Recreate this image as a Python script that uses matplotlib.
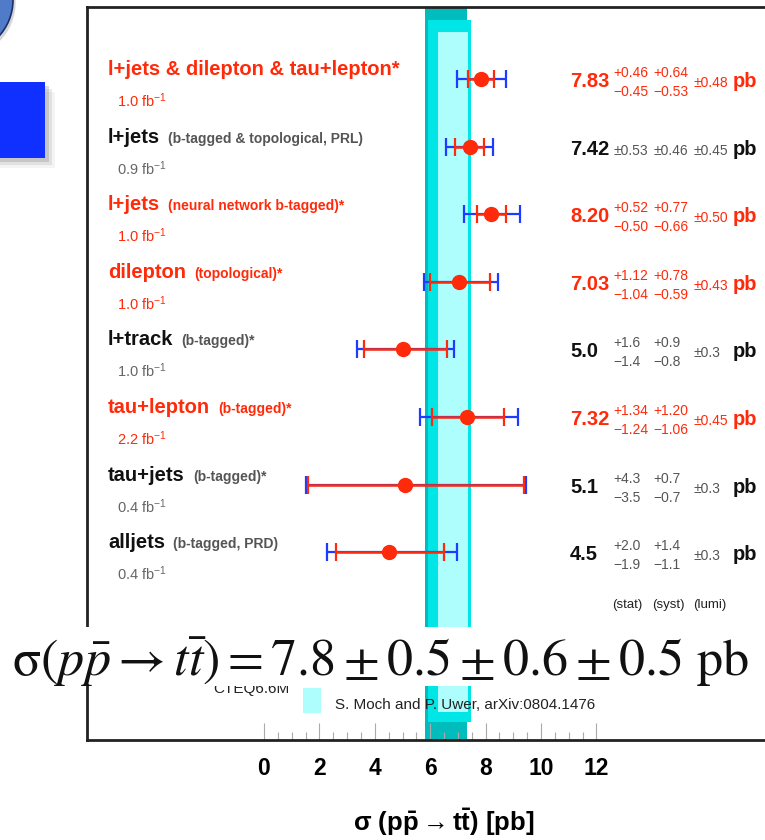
# -*- coding: utf-8 -*-
import numpy as np
import matplotlib
matplotlib.use('Agg')
import matplotlib.pyplot as plt
from matplotlib.patches import Rectangle, Ellipse
from matplotlib.transforms import blended_transform_factory, ScaledTranslation


# measurements (top to bottom)
names = ['l+jets & dilepton & tau+lepton*', 'l+jets', 'l+jets', 'dilepton',
         'l+track', 'tau+lepton', 'tau+jets', 'alljets']
details = ['', '(b-tagged & topological, PRL)', '(neural network b-tagged)*',
           '(topological)*', '(b-tagged)*', '(b-tagged)*', '(b-tagged)*',
           '(b-tagged, PRD)']
lumis = ['1.0', '0.9', '1.0', '1.0', '1.0', '2.2', '0.4', '0.4']
xsec = [7.83, 7.42, 8.20, 7.03, 5.0, 7.32, 5.1, 4.5]
decimals = [2, 2, 2, 2, 1, 2, 1, 1]
stat_up = [0.46, 0.53, 0.52, 1.12, 1.6, 1.34, 4.3, 2.0]
stat_dn = [0.45, 0.53, 0.50, 1.04, 1.4, 1.24, 3.5, 1.9]
syst_up = [0.64, 0.46, 0.77, 0.78, 0.9, 1.20, 0.7, 1.4]
syst_dn = [0.53, 0.46, 0.66, 0.59, 0.8, 1.06, 0.7, 1.1]
lumi_err = [0.48, 0.45, 0.50, 0.43, 0.3, 0.45, 0.3, 0.3]
highlight = [True, False, True, True, False, True, False, False]

# theory band (Moch & Uwer)
band_shadow = [5.81, 7.33]
band_outer = [5.92, 7.47]
band_inner = [6.28, 7.36]

xticks = [0, 2, 4, 6, 8, 10, 12]

W, H, DPI = 765, 840, 100
RED = '#ff2a0a'
BLUE = '#1d3cff'
SANS = ['Liberation Sans', 'DejaVu Sans']

plt.rcParams['mathtext.rm'] = 'Liberation Sans'
plt.rcParams['mathtext.bf'] = 'Liberation Sans:bold'
plt.rcParams['mathtext.it'] = 'Liberation Sans:italic'


def fx(px):
    return px / W


def fy(py):
    return 1 - py / H


fig = plt.figure(figsize=(W / DPI, H / DPI), dpi=DPI)

# slide decorations on the left
fig.add_artist(Ellipse((fx(-38), fy(3)), 2 * 53.6 / W, 2 * 53.6 / H, transform=fig.transFigure,
                       facecolor='#999999', alpha=0.4, edgecolor='none'))
fig.add_artist(Ellipse((fx(-40.6), fy(0)), 2 * 53.6 / W, 2 * 53.6 / H, transform=fig.transFigure,
                       facecolor='#4f7bc9', edgecolor='#1c2f66', lw=1.2))
for off, a in [(10, 0.08), (7, 0.15), (4, 0.25)]:
    fig.add_artist(Rectangle((fx(0), fy(158 + off)), (45 + off) / W, 76 / H,
                             transform=fig.transFigure, color='#777777', alpha=a, lw=0))
fig.add_artist(Rectangle((fx(0), fy(158)), 45 / W, 76 / H, transform=fig.transFigure,
                         color='#1030ff', lw=0))

# plot frame
X0, SCALE = 264, 27.7
ROW0, ROWSTEP = 79, 67.6
left, right, top, bottom = 87, 775, 7, 740
ax = fig.add_axes([fx(left), fy(bottom), (right - left) / W, (bottom - top) / H])
ax.set_xlim((left - X0) / SCALE, (right - X0) / SCALE)
ax.set_ylim((bottom - ROW0) / ROWSTEP, (top - ROW0) / ROWSTEP)
ax.set_facecolor('white')
for side in ['left', 'top', 'bottom']:
    ax.spines[side].set_linewidth(2)
    ax.spines[side].set_color('#222222')
ax.spines['right'].set_visible(False)

ax.axvspan(*band_shadow, color='#00bcbc', lw=0, zorder=1)
ax.axvspan(*band_outer, ymin=(bottom - 722) / (bottom - top), ymax=(bottom - 20) / (bottom - top),
           color='#00e6e6', lw=0, zorder=1.1)
ax.axvspan(*band_inner, ymin=(bottom - 712) / (bottom - top), ymax=(bottom - 32) / (bottom - top),
           color='#aefefe', lw=0, zorder=1.2)

rows = np.arange(len(xsec))
xsec_a = np.array(xsec)
tot_up = np.sqrt(np.array(stat_up) ** 2 + np.array(syst_up) ** 2 + np.array(lumi_err) ** 2)
tot_dn = np.sqrt(np.array(stat_dn) ** 2 + np.array(syst_dn) ** 2 + np.array(lumi_err) ** 2)

ax.errorbar(xsec_a, rows, xerr=[tot_dn, tot_up], fmt='none', ecolor=BLUE,
            elinewidth=1.6, capsize=6.5, capthick=1.6, zorder=3)
ax.errorbar(xsec_a, rows, xerr=[stat_dn, stat_up], fmt='o', color=RED, ms=10,
            elinewidth=1.8, capsize=6.5, capthick=1.6, zorder=4)

ax.set_xticks(xticks)
ax.set_xticks(np.arange(0, 12.5, 0.5), minor=True)
ax.set_yticks([])
ax.tick_params(axis='x', which='major', direction='in', length=12, width=0.8,
               color='#aaaaaa', pad=12, labelsize=16.5)
ax.tick_params(axis='x', which='minor', direction='in', length=6, width=0.8, color='#aaaaaa')
for lbl in ax.get_xticklabels():
    lbl.set_fontfamily(SANS)
    lbl.set_fontweight('bold')


def row_tf(dy_px):
    return (blended_transform_factory(fig.transFigure, ax.transData)
            + ScaledTranslation(0, -dy_px / DPI, fig.dpi_scale_trans))


renderer = fig.canvas.get_renderer()
for i in rows:
    red = highlight[i]
    c_main = RED if red else '#111111'
    c_sub = RED if red else '#555555'
    c_lumi = RED if red else '#666666'
    t = ax.text(fx(108), i, names[i], transform=row_tf(-4), fontsize=14.5, fontweight='bold',
                family=SANS, color=c_main, va='baseline')
    if details[i]:
        bb = t.get_window_extent(renderer)
        ax.text((bb.x1 + 8) / W, i, details[i], transform=row_tf(-4), fontsize=10,
                fontweight='bold', family=SANS, color=c_sub, va='baseline')
    ax.text(fx(117), i, lumis[i] + r' fb$^{-1}$', transform=row_tf(28), fontsize=10.5,
            family=SANS, color=c_lumi, va='baseline', math_fontfamily='custom')

    # numbers on the right
    c_err = RED if red else '#555555'
    d = decimals[i]
    ax.text(fx(570), i, f'{xsec[i]:.{d}f}', transform=row_tf(8), fontsize=14.5, fontweight='bold',
            family=SANS, color=c_main, va='baseline')
    if stat_up[i] == stat_dn[i] and syst_up[i] == syst_dn[i]:
        ax.text(fx(613), i, f'\u00b1{stat_up[i]:.{d}f}', transform=row_tf(8), fontsize=10,
                family=SANS, color=c_err, va='baseline')
        ax.text(fx(653), i, f'\u00b1{syst_up[i]:.{d}f}', transform=row_tf(8), fontsize=10,
                family=SANS, color=c_err, va='baseline')
    else:
        for col, up, dn in [(613, stat_up[i], stat_dn[i]), (653, syst_up[i], syst_dn[i])]:
            ax.text(fx(col), i, f'+{up:.{d}f}', transform=row_tf(-2), fontsize=10,
                    family=SANS, color=c_err, va='baseline')
            ax.text(fx(col), i, f'\u2212{dn:.{d}f}', transform=row_tf(17), fontsize=10,
                    family=SANS, color=c_err, va='baseline')
    ax.text(fx(693), i, f'\u00b1{lumi_err[i]:.{d}f}', transform=row_tf(8), fontsize=10,
            family=SANS, color=c_err, va='baseline')
    ax.text(fx(733), i, 'pb', transform=row_tf(8), fontsize=14.5, fontweight='bold',
            family=SANS, color=c_main, va='baseline')

for col, s in [(612, '(stat)'), (652, '(syst)'), (693, '(lumi)')]:
    fig.text(fx(col), fy(608), s, fontsize=9.5, family=SANS, color='#222222', va='baseline')

# legend
fig.add_artist(Rectangle((fx(303), fy(655)), 18 / W, 27 / H, transform=fig.transFigure,
                         color='#aefefe', lw=0, zorder=1))
fig.text(fx(213), fy(693), 'CTEQ6.6M', fontsize=11, family=SANS, color='#222222',
         va='baseline', zorder=3)
fig.add_artist(Rectangle((fx(303), fy(713)), 18 / W, 25 / H, transform=fig.transFigure,
                         color='#aefefe', lw=0, zorder=1))
fig.text(fx(335), fy(709), 'S. Moch and P. Uwer, arXiv:0804.1476', fontsize=11,
         family=SANS, color='#222222', va='baseline', zorder=3)

# axis title
fig.text(fx(444), fy(822), r'$\mathbf{\sigma\ (p\bar{p}\rightarrow t\bar{t})\ [pb]}$',
         fontsize=18.5, ha='center', va='center', math_fontfamily='custom')

# combined result banner
fig.add_artist(Rectangle((0, fy(686)), 1, 59 / H, transform=fig.transFigure,
                         color='white', lw=0, zorder=20))
fig.text(fx(12), fy(676),
         r'$\mathrm{\sigma}(p\bar{p} \rightarrow t\bar{t}) = 7.8 \pm 0.5 \pm 0.6 \pm 0.5\ \mathrm{pb}$',
         fontsize=37.5, math_fontfamily='stix', va='baseline', color='#111111', zorder=21)

fig.savefig('out.png', dpi=DPI)
